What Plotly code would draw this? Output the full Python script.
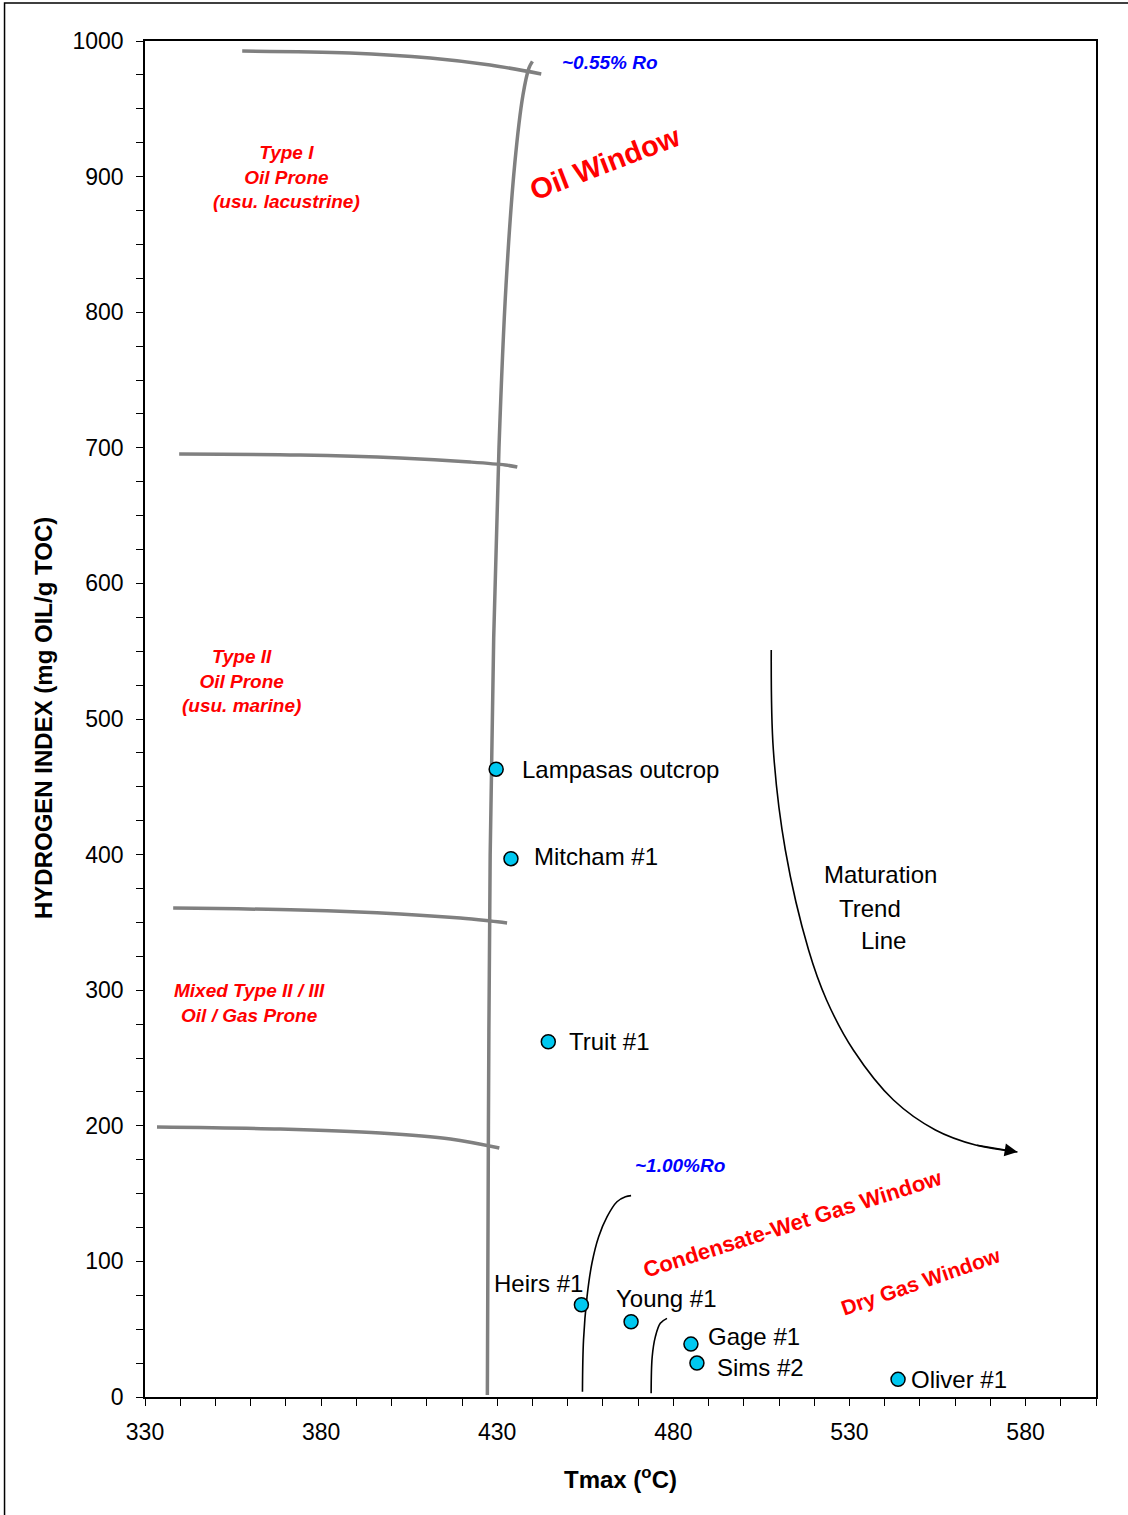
import plotly.graph_objects as go

# ---------------- data ----------------
wells = ["Lampasas outcrop", "Mitcham #1", "Truit #1", "Heirs #1",
         "Young #1", "Gage #1", "Sims #2", "Oliver #1"]
tmax = [429.7, 433.9, 444.5, 453.9, 468.0, 485.0, 486.7, 543.8]
hi = [463, 397, 262, 68, 55.5, 39, 25, 13]

# oil-window onset line (~0.55% Ro)
ro055_t = [427.2, 427.5, 428.0, 429.0, 430.5, 432.5, 435.0, 437.3, 439.0, 440.0]
ro055_hi = [1.5, 200, 400, 560, 700, 820, 910, 960, 980, 985]

# kerogen type boundaries
b1_t = [357.6, 388.2, 411.0, 428.0, 442.5]
b1_hi = [992.6, 991.2, 987.5, 982.3, 975.7]
b2_t = [339.7, 374.0, 402.4, 422.3, 432.3, 435.7]
b2_hi = [695.4, 694.7, 692.5, 689.5, 687.3, 685.8]
b3_t = [338.0, 374.0, 402.4, 419.5, 428.0, 432.8]
b3_hi = [360.6, 359.1, 356.2, 353.2, 351.0, 349.6]
b4_t = [333.4, 368.4, 396.8, 416.7, 430.6]
b4_hi = [199.1, 197.6, 194.7, 190.3, 183.6]

# ~1.00% Ro line and dry gas boundary
ro100_t = [454.2, 454.5, 455.5, 456.9, 458.8, 461.2, 464.0, 466.4, 468.0]
ro100_hi = [3.9, 42.0, 74.0, 98.8, 118.2, 133.0, 144.0, 147.7, 148.5]
dry_t = [473.7, 474.0, 474.9, 476.3, 478.2]
dry_hi = [2.7, 29.7, 44.5, 54.4, 58.0]

# maturation trend arrow
mat_t = [507.8, 508.4, 511.8, 518.4, 523.5, 531.1, 542.5, 554.4, 565.8, 577.7]
mat_hi = [550.9, 477.1, 403.4, 329.6, 292.8, 255.9, 219.0, 196.9, 185.8, 180.7]

# label placement (xanchor, xshift px, yshift px)
label_pos = {
    "Lampasas outcrop": ("left", 24, 0),
    "Mitcham #1": ("left", 21, 2),
    "Truit #1": ("left", 19, 0),
    "Heirs #1": ("right", 4, 21),
    "Young #1": ("left", -17, 23),
    "Gage #1": ("left", 15, 8),
    "Sims #2": ("left", 18, -4),
    "Oliver #1": ("left", 11, 0),
}

FONT = "Liberation Sans, Arial, sans-serif"
GRAY = "#808080"

fig = go.Figure()

for tx, hy in [(ro055_t, ro055_hi), (b1_t, b1_hi), (b2_t, b2_hi), (b3_t, b3_hi), (b4_t, b4_hi)]:
    fig.add_trace(go.Scatter(x=tx, y=hy, mode="lines", line=dict(color=GRAY, width=3.5, shape="spline"),
                             hoverinfo="skip", showlegend=False))

for tx, hy in [(ro100_t, ro100_hi), (dry_t, dry_hi), (mat_t, mat_hi)]:
    fig.add_trace(go.Scatter(x=tx, y=hy, mode="lines", line=dict(color="black", width=1.6, shape="spline"),
                             hoverinfo="skip", showlegend=False))

fig.add_trace(go.Scatter(x=tmax, y=hi, mode="markers",
                         marker=dict(size=14, color="#00C8F0", line=dict(color="black", width=1.5)),
                         text=wells, showlegend=False, cliponaxis=False))

# arrow head at end of maturation trend
fig.add_annotation(x=mat_t[-1], y=mat_hi[-1], ax=mat_t[-2], ay=mat_hi[-2],
                   xref="x", yref="y", axref="x", ayref="y", text="",
                   showarrow=True, arrowhead=2, arrowsize=1.6, arrowwidth=1.6, arrowcolor="black", standoff=0)

# well labels
for name, tx, hy in zip(wells, tmax, hi):
    xa, xs, ys = label_pos[name]
    fig.add_annotation(x=tx, y=hy, text=name, showarrow=False, xanchor=xa, yanchor="middle",
                       xshift=xs, yshift=ys, font=dict(family=FONT, size=24, color="black"))

red_it = dict(family=FONT, size=19, color="#FF0000", weight="bold", style="italic")
blue_it = dict(family=FONT, size=19, color="#0000FF", weight="bold", style="italic")

fig.add_annotation(x=370.3, y=899.7, text="Type I<br>Oil Prone<br>(usu. lacustrine)", showarrow=False, font=red_it)
fig.add_annotation(x=357.3, y=528, text="Type II<br>Oil Prone<br>(usu. marine)", showarrow=False, font=red_it)
fig.add_annotation(x=359.8, y=290.6, text="Mixed Type II / III<br>Oil / Gas Prone", showarrow=False, font=red_it)
fig.add_annotation(x=462.1, y=984.5, text="~0.55% Ro", showarrow=False, font=blue_it)
fig.add_annotation(x=482.0, y=171, text="~1.00%Ro", showarrow=False, font=blue_it)

fig.add_annotation(x=460.7, y=910, text="Oil Window", showarrow=False, textangle=-21,
                   font=dict(family=FONT, size=29, color="#FF0000", weight="bold"))
fig.add_annotation(x=514.1, y=127.6, text="Condensate-Wet Gas Window", showarrow=False, textangle=-17.5,
                   font=dict(family=FONT, size=22, color="#FF0000", weight="bold"))
fig.add_annotation(x=550.2, y=85.5, text="Dry Gas Window", showarrow=False, textangle=-19,
                   font=dict(family=FONT, size=21, color="#FF0000", weight="bold"))

for txt, tx, hy in [("Maturation", 522.3, 385), ("Trend", 526.6, 360.6), ("Line", 532.8, 336.3)]:
    fig.add_annotation(x=tx, y=hy, text=txt, showarrow=False, xanchor="left",
                       font=dict(family=FONT, size=24, color="black"))

# axis titles
fig.add_annotation(xref="paper", yref="paper", x=0.5, y=-0.0597, text="Tmax (<sup>o</sup>C)",
                   showarrow=False, yanchor="middle",
                   font=dict(family=FONT, size=24, color="black", weight="bold"))
fig.add_annotation(xref="paper", yref="paper", x=-0.1073, y=0.5007, text="HYDROGEN INDEX (mg OIL/g TOC)",
                   showarrow=False, textangle=-90, xanchor="center", yanchor="middle",
                   font=dict(family=FONT, size=24, color="black", weight="bold"))

# outer chart frame
fig.add_shape(type="rect", xref="paper", yref="paper", x0=-0.1477, x1=1.046, y0=-0.098, y1=1.028,
              line=dict(color="black", width=1.5), layer="below")

axis_common = dict(showgrid=False, zeroline=False, showline=True, linecolor="black", linewidth=1.5,
                   mirror=True, ticks="outside", ticklen=7, tickwidth=1, tickcolor="black",
                   tickfont=dict(family=FONT, size=23, color="black"))

fig.update_xaxes(range=[330, 600], tick0=330, dtick=50, ticklabelstandoff=7,
                 minor=dict(tick0=330, dtick=10, ticks="outside", ticklen=7, tickcolor="black", showgrid=False),
                 **axis_common)
fig.update_yaxes(range=[0, 1000], tick0=0, dtick=100, ticklabelstandoff=8,
                 minor=dict(tick0=0, dtick=25, ticks="outside", ticklen=7, tickcolor="black", showgrid=False),
                 **axis_common)

fig.update_layout(width=1128, height=1515, autosize=False,
                  margin=dict(l=145, r=32, t=41, b=118),
                  paper_bgcolor="white", plot_bgcolor="white",
                  font=dict(family=FONT, color="black"))

fig.write_html("out.html", config={"displayModeBar": False},
               post_script="document.body.style.margin='0px';document.body.style.padding='0px';"
                           "document.body.style.overflow='hidden';")
